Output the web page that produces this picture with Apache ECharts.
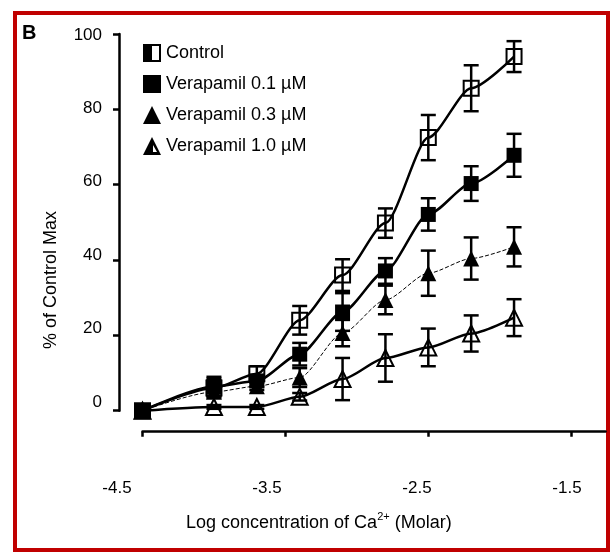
<!DOCTYPE html>
<html>
<head>
<meta charset="utf-8">
<script src="https://cdn.jsdelivr.net/npm/echarts@6/dist/echarts.min.js"></script>
<style>
  html, body { margin: 0; padding: 0; background: #fff; }
  #chart { width: 611px; height: 553px; }
</style>
</head>
<body>
<div id="chart"></div>
<script>
// log [Ca2+] (M)
var logCa = [-4.5, -4.0, -3.7, -3.4, -3.1, -2.8, -2.5, -2.2, -1.9];
var xTicks = [-4.5, -3.5, -2.5, -1.5];

// % of control max
var control   = [0, 6, 9.8, 24, 36, 49.8, 72.5, 85.6, 94];
var controlErr = [0, 2.5, 2, 3.8, 4.2, 3.9, 6, 6.1, 4.1];
var vera01    = [0, 6.4, 7.9, 15, 26.2, 37.1, 52.1, 60.3, 67.8];
var vera01Err = [0, 2.6, 1.5, 3, 5, 3.4, 4.3, 4.6, 5.7];
var vera03    = [0, 5, 6.5, 8.8, 20.6, 29.4, 36.5, 40.4, 43.5];
var vera03Err = [0, 1, 1, 2.5, 3.5, 3.8, 6, 5.6, 5.2];
var vera10    = [0, 1, 1, 3.7, 8.4, 14, 16.8, 20.5, 24.7];
var vera10Err = [0, 0.5, 0.5, 1, 5.6, 6.3, 5, 4.8, 4.9];

var names = ['Control', 'Verapamil 0.1 µM', 'Verapamil 0.3 µM', 'Verapamil 1.0 µM'];

var font = 'Liberation Sans';
var chart = echarts.init(document.getElementById('chart'));

function pairs(ys) {
  return logCa.map(function (x, i) { return [x, ys[i]]; });
}

function errorSeries(ys, errs) {
  return {
    type: 'custom',
    xAxisIndex: 0,
    yAxisIndex: 0,
    z: 2,
    silent: true,
    data: logCa.map(function (x, i) { return [x, ys[i] - errs[i], ys[i] + errs[i]]; }),
    renderItem: function (params, api) {
      var lo = api.coord([api.value(0), api.value(1)]);
      var hi = api.coord([api.value(0), api.value(2)]);
      var h = 7.5;
      var st = { stroke: '#000', lineWidth: 2.5 };
      return {
        type: 'group',
        children: [
          { type: 'line', shape: { x1: lo[0], y1: lo[1], x2: hi[0], y2: hi[1] }, style: st },
          { type: 'line', shape: { x1: lo[0] - h, y1: lo[1], x2: lo[0] + h, y2: lo[1] }, style: st },
          { type: 'line', shape: { x1: hi[0] - h, y1: hi[1], x2: hi[0] + h, y2: hi[1] }, style: st }
        ]
      };
    }
  };
}

function lineSeries(name, ys, symbol, size, open, lw, dash) {
  return {
    name: name,
    type: 'line',
    xAxisIndex: 0,
    yAxisIndex: 0,
    z: 3,
    smooth: 0.25,
    smoothMonotone: 'x',
    data: pairs(ys),
    symbol: symbol,
    symbolSize: size,
    lineStyle: { color: '#000', width: lw, type: dash || 'solid' },
    itemStyle: open
      ? { color: 'rgba(0,0,0,0)', borderColor: '#000', borderWidth: 2 }
      : { color: '#000', borderColor: '#000', borderWidth: 0 }
  };
}

// half filled square / outlined triangle, as in the original legend
var halfSquare = 'path://M0 0L18 0L18 18L0 18Z M9 2L9 16L16 16L16 2Z';
var openTri = 'path://M9 0L18 18L0 18Z M10 8L10 15L14 15Z';

var option = {
  animation: false,
  backgroundColor: '#fff',
  textStyle: { fontFamily: font, color: '#000' },
  title: [
    { text: 'B', left: 22, top: 23, padding: 0,
      textStyle: { fontFamily: font, fontSize: 20, fontWeight: 'bold', color: '#000' } },
    { text: '{a|Log concentration of Ca}{s|2+}{a| (Molar)}', left: 186, top: 511, padding: 0,
      textStyle: {
        fontWeight: 'normal',
        rich: {
          a: { fontFamily: font, fontSize: 18, fontWeight: 'normal', color: '#000', lineHeight: 24 },
          s: { fontFamily: font, fontSize: 11, fontWeight: 'normal', color: '#000', lineHeight: 12, verticalAlign: 'top' }
        }
      } }
  ],
  legend: {
    orient: 'vertical',
    left: 143,
    top: 44,
    padding: 0,
    itemWidth: 18,
    itemHeight: 18,
    itemGap: 13,
    selectedMode: false,
    textStyle: { fontFamily: font, fontSize: 18, color: '#000' },
    data: [
      { name: names[0], icon: halfSquare, itemStyle: { color: '#000', borderWidth: 0 } },
      { name: names[1], icon: 'rect' },
      { name: names[2], icon: 'triangle' },
      { name: names[3], icon: openTri, itemStyle: { color: '#000', borderWidth: 0 } }
    ]
  },
  grid: [
    { left: 142.5, top: 34, width: 463, height: 376.7 },
    { left: 117, top: 35, width: 450, height: 367 }
  ],
  xAxis: [
    {
      type: 'value', gridIndex: 0, min: -4.5, max: -1.26, offset: 21,
      axisLine: { onZero: false, lineStyle: { color: '#000', width: 2.5 } },
      axisTick: { customValues: xTicks, length: 5, lineStyle: { color: '#000', width: 2.5 } },
      axisLabel: { show: false },
      splitLine: { show: false }
    },
    {
      type: 'value', gridIndex: 1, min: -4.5, max: -1.5, interval: 1,
      axisLine: { show: false, onZero: false },
      axisTick: { show: false },
      splitLine: { show: false },
      axisLabel: {
        margin: 78, fontFamily: font, fontSize: 17, color: '#000',
        formatter: function (v) { return v.toFixed(1); }
      }
    }
  ],
  yAxis: [
    {
      type: 'value', gridIndex: 0, min: 0, max: 100, interval: 20, offset: 23.5,
      axisLine: { onZero: false, lineStyle: { color: '#000', width: 2.5 } },
      axisTick: { length: 6, lineStyle: { color: '#000', width: 2.5 } },
      axisLabel: { show: false },
      splitLine: { show: false }
    },
    {
      type: 'value', gridIndex: 1, min: 0, max: 100, interval: 20,
      axisLine: { show: false, onZero: false },
      axisTick: { show: false },
      splitLine: { show: false },
      axisLabel: { margin: 15, fontFamily: font, fontSize: 17, color: '#000' }
    }
  ],
  graphic: [
    {
      type: 'rect', silent: true,
      shape: { x: 15, y: 13, width: 593, height: 537 },
      style: { fill: 'none', stroke: '#c00000', lineWidth: 4 }
    },
    {
      type: 'text', x: 51, y: 280, rotation: Math.PI / 2,
      style: { text: '% of Control Max', font: '18px "Liberation Sans"', fill: '#000',
        align: 'center', verticalAlign: 'middle' }
    }
  ],
  series: [
    errorSeries(control, controlErr),
    errorSeries(vera01, vera01Err),
    errorSeries(vera03, vera03Err),
    errorSeries(vera10, vera10Err),
    lineSeries(names[0], control, 'rect', 15, true, 2.5),
    lineSeries(names[1], vera01, 'rect', 15, false, 2.5),
    lineSeries(names[2], vera03, 'triangle', 16, false, 1, [4, 2]),
    lineSeries(names[3], vera10, 'triangle', 16, true, 2.5)
  ]
};

chart.setOption(option);
</script>
</body>
</html>
